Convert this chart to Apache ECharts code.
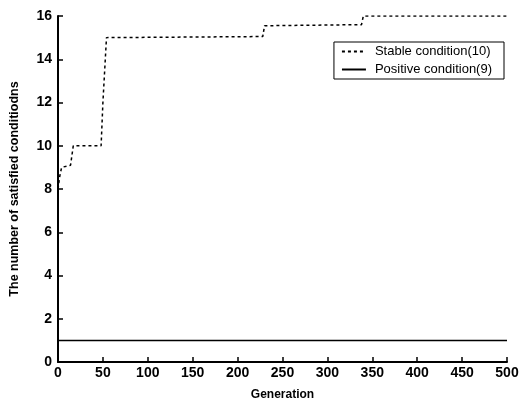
<!DOCTYPE html>
<html>
<head>
<meta charset="utf-8">
<script src="https://cdn.jsdelivr.net/npm/echarts@6/dist/echarts.min.js"></script>
<style>html,body{margin:0;padding:0;background:#fff;}#c{width:525px;height:406px;}</style>
</head>
<body>
<div id="c"></div>
<script>
var stableGen = [0, 1, 2, 4, 6, 14, 17, 48, 50, 52, 54, 228, 230, 338, 340, 500];
var stableVal = [8, 8.3, 8.6, 9, 9, 9.1, 10, 10, 12, 13.5, 15, 15.05, 15.55, 15.6, 16, 16];
var positiveGen = [0, 500];
var positiveVal = [1, 1];
var xTicks = [0, 50, 100, 150, 200, 250, 300, 350, 400, 450, 500];
var yTicks = [0, 2, 4, 6, 8, 10, 12, 14, 16];
var seriesNames = ['Stable condition(10)', 'Positive condition(9)'];
var xName = 'Generation';
var yName = 'The number of satisfied conditiodns';

function pairs(a, b) { return a.map(function (v, i) { return [v, b[i]]; }); }

var font = 'Liberation Sans, Arial, sans-serif';
var chart = echarts.init(document.getElementById('c'));
chart.setOption({
  animation: false,
  backgroundColor: '#fff',
  grid: { left: 57, right: 18, top: 16, bottom: 38, containLabel: false },
  xAxis: {
    type: 'value', min: 0, max: 500, interval: 50,
    name: xName, nameLocation: 'middle', nameGap: 27,
    nameTextStyle: { color: '#000', fontFamily: font, fontSize: 12, fontWeight: 'bold' },
    axisLine: { lineStyle: { color: '#000', width: 2 } },
    axisTick: { inside: true, length: 5, lineStyle: { color: '#000', width: 1.5 } },
    axisLabel: { color: '#000', fontFamily: font, fontSize: 14, fontWeight: 'bold', margin: 4 },
    splitLine: { show: false }
  },
  yAxis: {
    type: 'value', min: 0, max: 16, interval: 2,
    name: yName, nameLocation: 'middle', nameGap: 37, nameRotate: 90,
    nameTextStyle: { color: '#000', fontFamily: font, fontSize: 12.5, fontWeight: 'bold' },
    axisLine: { show: true, lineStyle: { color: '#000', width: 2 } },
    axisTick: { show: true, inside: true, length: 5, lineStyle: { color: '#000', width: 1.5 } },
    axisLabel: { color: '#000', fontFamily: font, fontSize: 14, fontWeight: 'bold', margin: 6 },
    splitLine: { show: false }
  },
  legend: {
    show: true,
    orient: 'vertical', right: 21, top: 42,
    backgroundColor: '#fff', borderColor: '#000', borderWidth: 1,
    padding: [3, 12, 3, 7], itemGap: 5, itemWidth: 24, itemHeight: 12,
    itemStyle: { opacity: 0 },
    textStyle: { color: '#000', fontFamily: font, fontSize: 13, padding: [0, 0, 0, 4] },
    data: seriesNames
  },
  series: [
    {
      name: seriesNames[0], type: 'line', symbol: 'none', showSymbol: false,
      data: pairs(stableGen, stableVal),
      lineStyle: { color: '#000', width: 1.5, type: [3, 3] },
      itemStyle: { color: '#000' }
    },
    {
      name: seriesNames[1], type: 'line', symbol: 'none', showSymbol: false,
      data: pairs(positiveGen, positiveVal),
      lineStyle: { color: '#000', width: 1.5, type: 'solid' },
      itemStyle: { color: '#000' }
    }
  ]
});
</script>
</body>
</html>
